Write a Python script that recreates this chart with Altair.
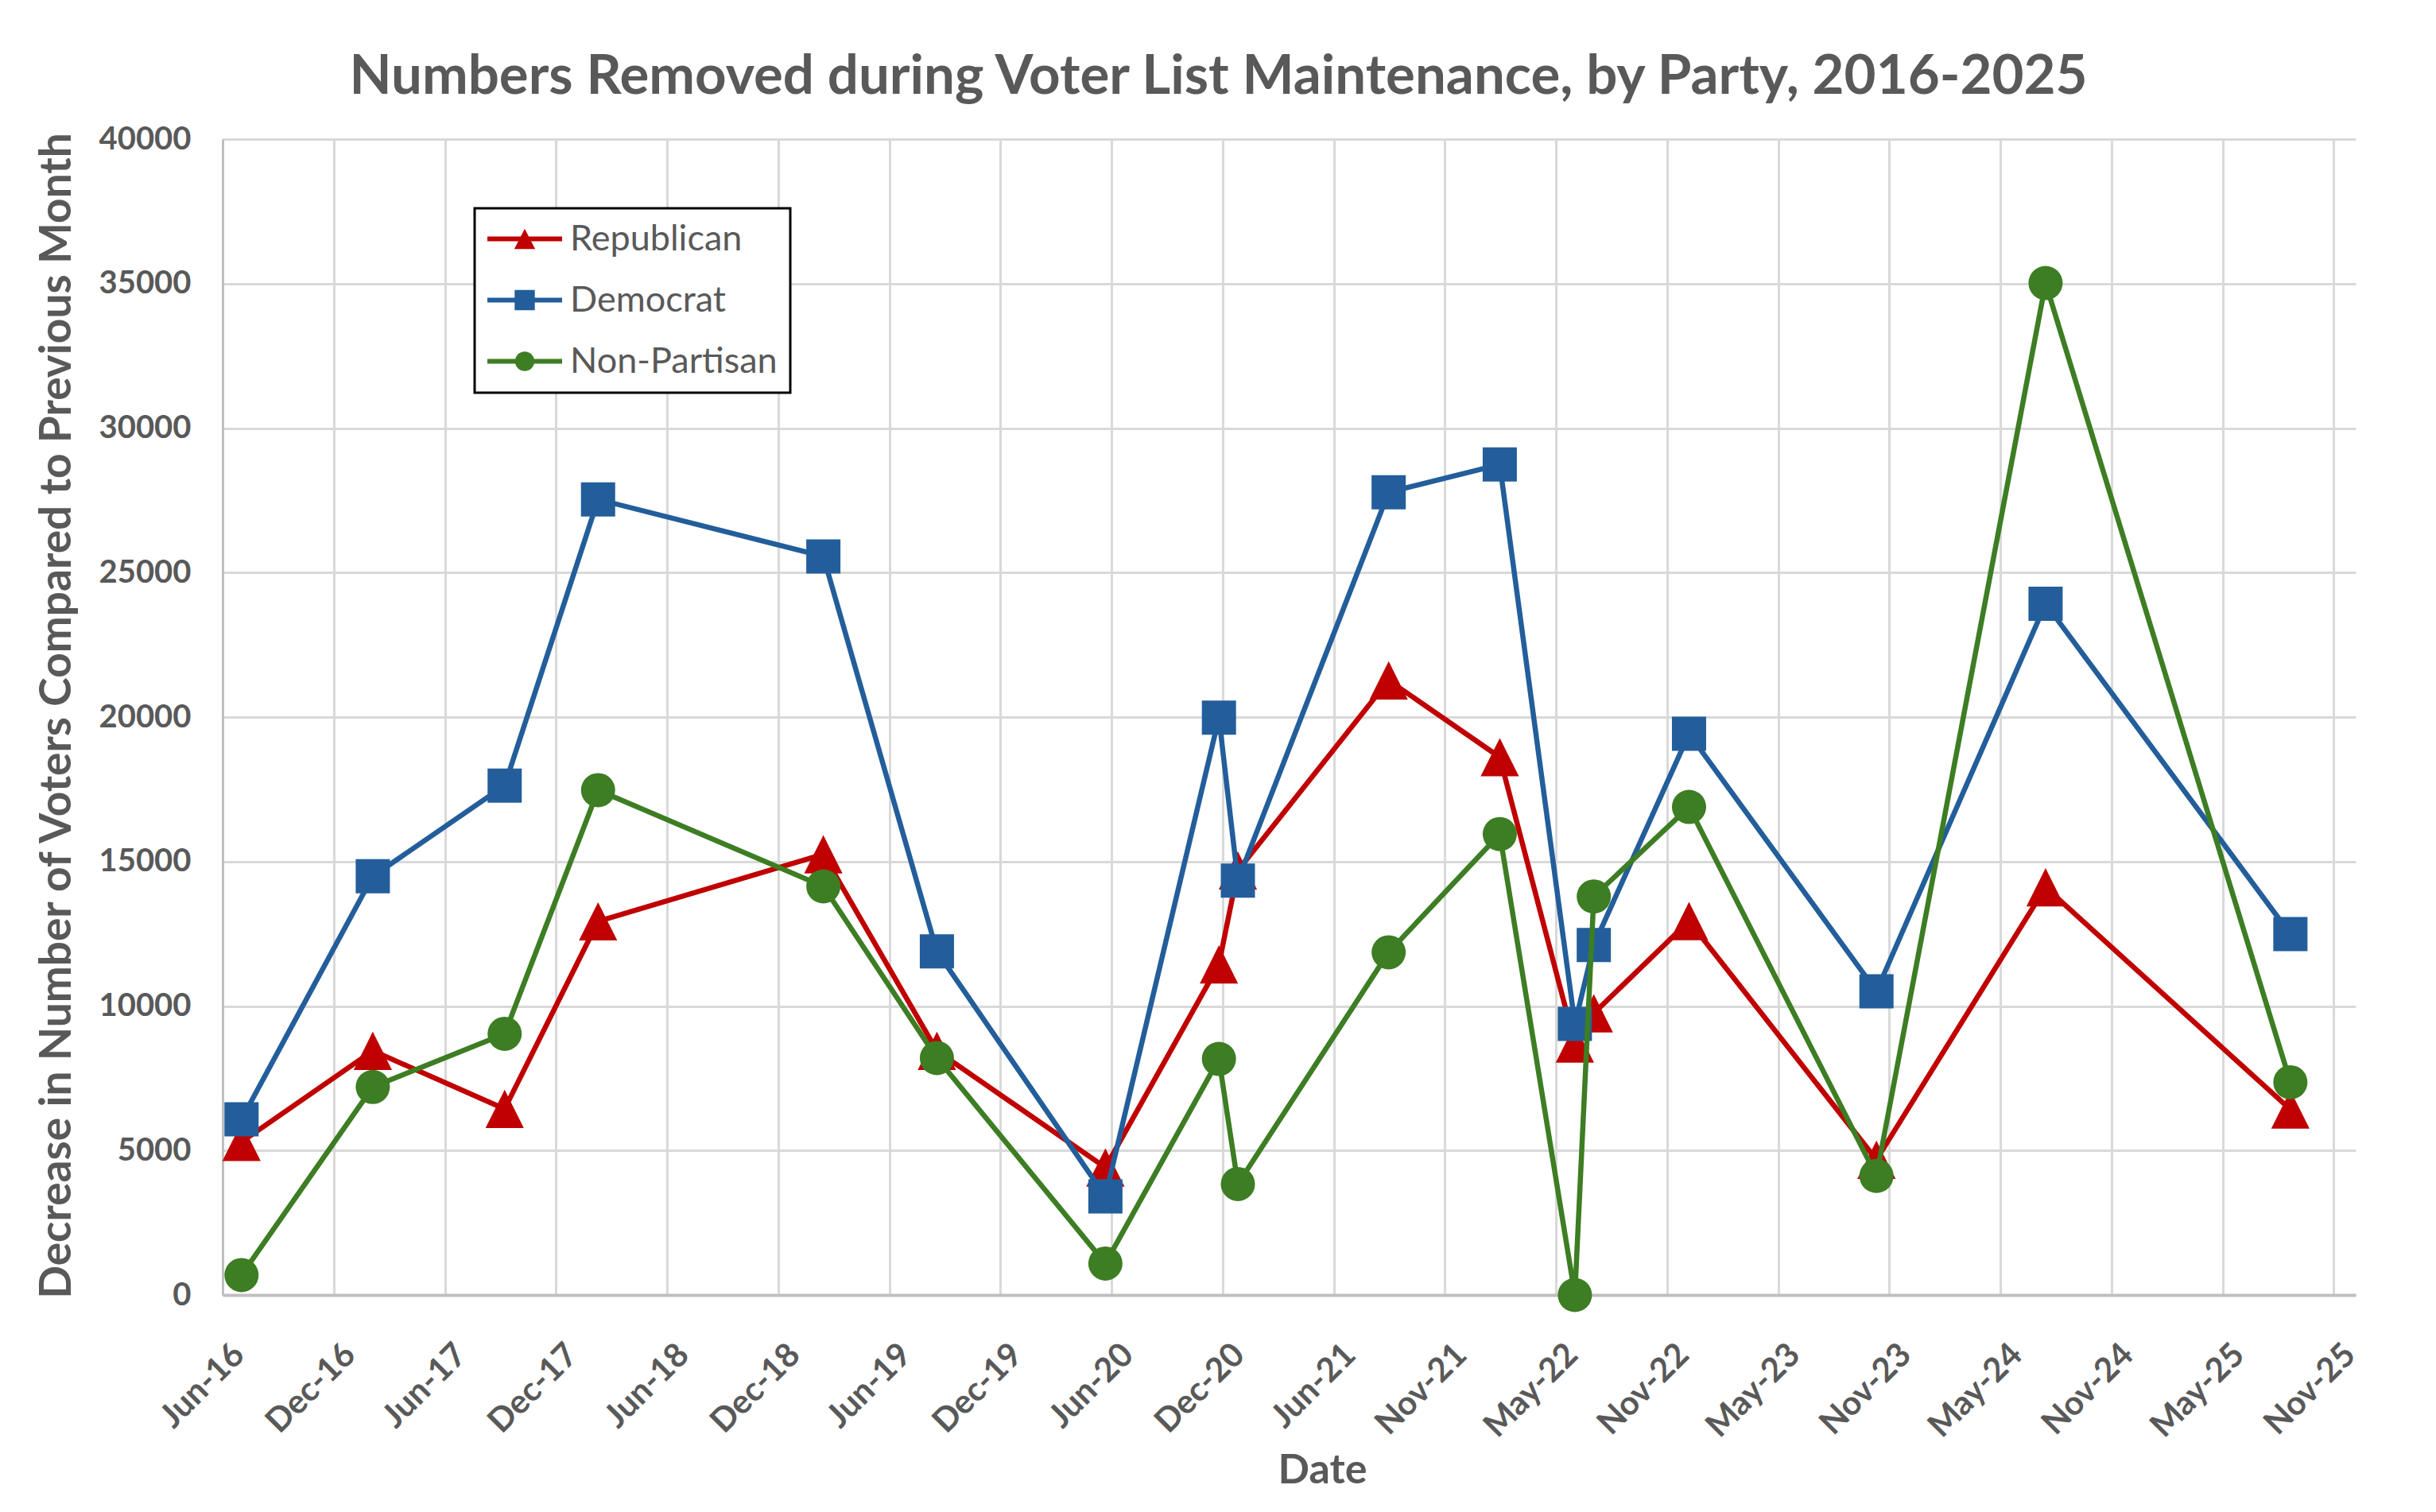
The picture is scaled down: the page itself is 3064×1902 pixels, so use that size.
import altair as alt
import pandas as pd

# ---------------- data ----------------
parties = ["Republican", "Democrat", "Non-Partisan"]
colors = ["#C00000", "#235E9B", "#3D7D23"]

dates = ["2016-07-08", "2017-02-08", "2017-09-12", "2018-02-12", "2019-02-16",
         "2019-08-21", "2020-05-23", "2020-11-25", "2020-12-26", "2021-08-30",
         "2022-02-28", "2022-07-01", "2022-08-01", "2023-01-04", "2023-11-07",
         "2024-08-10", "2025-09-15"]

republican = [5300, 8450, 6440, 12930, 15250, 8450, 4410, 11440, 14690, 21270,
              18610, 8700, 9750, 12940, 4680, 14110, 6420]
democrat = [6080, 14490, 17630, 27530, 25560, 11890, 3410, 19980, 14340, 27780,
            28740, 9380, 12110, 19420, 10510, 23920, 12490]
non_partisan = [690, 7200, 9040, 17470, 14140, 8200, 1090, 8170, 3840, 11860,
                15950, 0, 13790, 16890, 4120, 35020, 7360]

axis_start = "2016-06-07"
axis_end = "2025-12-31"
tick_step = "182D"
tick_count = 20
y_ticks = list(range(0, 40001, 5000))

series = {"Republican": republican, "Democrat": democrat, "Non-Partisan": non_partisan}
rows = []
for p in parties:
    for d, v in zip(dates, series[p]):
        rows.append({"date": d, "party": p, "value": v})
df = pd.DataFrame(rows)


def ms(t):
    return int(pd.Timestamp(t).value // 10**6)


tick_values = [ms(t) for t in pd.date_range(axis_start, periods=tick_count, freq=tick_step)]

# ---------------- style ----------------
FONT = "Lato"
TXT = "#595959"
W, H = 2683, 1454

chart_tri = "M0,-1.12L1.12,1.12L-1.12,1.12Z"
marker_shapes = {"Republican": chart_tri, "Democrat": "square", "Non-Partisan": "circle"}

seg = "M-1,-0.064L1,-0.064L1,0.064L-1,0.064Z"
legend_paths = [
    seg + "M0,-0.27L0.28,0.27L-0.28,0.27Z",
    seg + "M-0.27,-0.27L0.27,-0.27L0.27,0.27L-0.27,0.27Z",
    seg + "M-0.26,0A0.26,0.26 0 1,1 0.26,0A0.26,0.26 0 1,1 -0.26,0Z",
]

x_enc = alt.X(
    "date:T",
    scale=alt.Scale(type="utc", domain=[ms(axis_start), ms(axis_end)], nice=False),
    axis=alt.Axis(
        values=tick_values, labelExpr="utcFormat(datum.value, '%b-%y')",
        labelAngle=-45, labelAlign="right", labelBaseline="top",
        labelFont=FONT, labelFontSize=42, labelFontWeight="bold", labelColor=TXT,
        labelPadding=54, labelOffset=6, labelOverlap=False, labelLimit=0,
        ticks=False, tickSize=0,
        grid=True, gridColor="#D9D9D9", gridWidth=3,
        domainColor="#BFBFBF", domainWidth=4,
        title="Date", titleFont=FONT, titleFontSize=52, titleFontWeight="bold",
        titleColor=TXT, titleX=1383, titleY=236, titleBaseline="alphabetic",
        titleAlign="center",
    ),
)
y_enc = alt.Y(
    "value:Q",
    scale=alt.Scale(domain=[0, 40000], nice=False),
    axis=alt.Axis(
        values=y_ticks, format="d",
        labelFont=FONT, labelFontSize=40, labelFontWeight="bold", labelColor=TXT,
        labelPadding=40, labelBaseline="middle",
        ticks=False, tickSize=0,
        grid=True, gridColor="#D9D9D9", gridWidth=3,
        domainColor="#BFBFBF", domainWidth=3,
        title="Decrease in Number of Voters Compared to Previous Month",
        titleFont=FONT, titleFontSize=55, titleFontWeight="bold", titleColor=TXT,
        titleAngle=270, titleX=-192, titleY=725, titleBaseline="alphabetic",
        titleAlign="center", titleLimit=0,
    ),
)

base = alt.Chart(df).encode(x=x_enc, y=y_enc)

layers = []
for p, c in zip(parties, colors):
    sub = base.transform_filter(alt.datum.party == p)
    layers.append(sub.mark_line(color=c, strokeWidth=6.5, strokeJoin="round", strokeCap="round"))
    layers.append(sub.mark_point(shape=marker_shapes[p], color=c, filled=True,
                                 opacity=1, size=1849, strokeWidth=0))

leg = alt.Legend(
    title=None, orient="none", legendX=317, legendY=87,
    labelFont=FONT, labelFontSize=45, labelColor=TXT, labelOffset=10, labelLimit=0,
    symbolSize=8836, symbolStrokeWidth=0, symbolOpacity=1,
    clipHeight=45, rowPadding=31, padding=16,
)
legend_layer = (
    alt.Chart(df)
    .transform_filter("false")
    .mark_point(filled=True, opacity=1, size=8836, strokeWidth=0)
    .encode(
        x=alt.X("date:T"),
        y=alt.Y("value:Q"),
        color=alt.Color("party:N", scale=alt.Scale(domain=parties, range=colors), legend=leg),
        shape=alt.Shape("party:N", scale=alt.Scale(domain=parties, range=legend_paths), legend=leg),
    )
)

chart = (
    alt.layer(*layers, legend_layer)
    .properties(
        width=W, height=H,
        autosize=alt.AutoSizeParams(type="none"),
        padding={"left": 272, "top": 167, "right": 93, "bottom": 260},
        title=alt.TitleParams(
            "Numbers Removed during Voter List Maintenance, by Party, 2016-2025",
            font=FONT, fontSize=69, fontWeight="bold", color=TXT,
            anchor="middle", dx=-89, dy=66, offset=34, baseline="alphabetic",
        ),
    )
    .configure(background="white")
    .configure_view(stroke="transparent")
    .configure_legend(strokeColor="black", strokeWidth=3, fillColor="white", cornerRadius=0)
)

chart.save("out.html", embed_options={"renderer": "svg", "actions": False})
